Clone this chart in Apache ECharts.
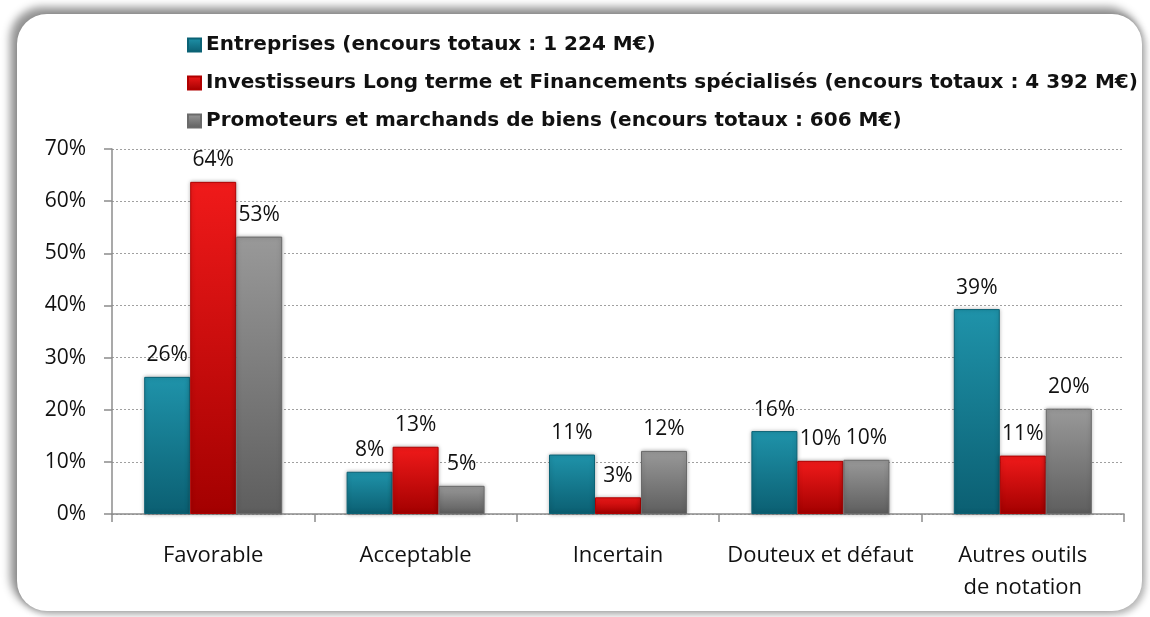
<!DOCTYPE html>
<html>
<head>
<meta charset="utf-8">
<script src="https://cdn.jsdelivr.net/npm/echarts@6/dist/echarts.min.js"></script>
<style>
  html, body { margin: 0; padding: 0; background: #fff; overflow: hidden; }
  #frame {
    position: absolute; left: 17px; top: 14px; width: 1125px; height: 597px;
    border-radius: 30px; background: #fff;
    box-shadow: -5px -5px 9px 2px rgba(0,0,0,0.42), 3px 3px 6px 1px rgba(0,0,0,0.25);
  }
  #myChart { position: absolute; left: 0; top: 0; width: 1150px; height: 617px; }
</style>
</head>
<body>
<div id="frame"></div>
<div id="myChart"></div>
<script>
// categories and values (in %)
var categories = ["Favorable", "Acceptable", "Incertain", "Douteux et défaut", "Autres outils\nde notation"];
var seriesNames = [
  "Entreprises (encours totaux : 1 224 M€)",
  "Investisseurs Long terme et Financements spécialisés (encours totaux : 4 392 M€)",
  "Promoteurs et marchands de biens (encours totaux : 606 M€)"
];
var entreprises = [26.3, 8.1, 11.4, 15.9, 39.3];
var investisseurs = [63.7, 12.9, 3.2, 10.2, 11.2];
var promoteurs = [53.2, 5.4, 12.1, 10.4, 20.2];
var yTicks = [0, 10, 20, 30, 40, 50, 60, 70];

var font = "'Open Sans', 'DejaVu Sans', sans-serif";
var legendFont = "'DejaVu Sans', sans-serif";

function grad(top, bottom) {
  return {
    type: "linear", x: 0, y: 0, x2: 0, y2: 1,
    colorStops: [{ offset: 0, color: top }, { offset: 1, color: bottom }]
  };
}

var myChart = echarts.init(document.getElementById("myChart"));

function barSeries(name, data, top, bottom, edge) {
  return {
    name: name,
    type: "bar",
    data: data,
    barWidth: 46,
    barGap: "0%",
    itemStyle: {
      color: grad(top, bottom),
      borderColor: edge,
      borderWidth: 1,
      shadowBlur: 4,
      shadowColor: "rgba(0,0,0,0.3)"
    },
    label: {
      show: true,
      position: "top",
      distance: 11,
      fontFamily: font,
      fontSize: 21,
      color: "#111",
      formatter: function (p) { return Math.round(p.value) + "%"; }
    }
  };
}

myChart.setOption({
  animation: false,
  color: ["#137d93", "#d40000", "#808080"],
  legend: {
    orient: "vertical",
    left: 182,
    top: 29,
    itemGap: 16,
    itemWidth: 13,
    itemHeight: 13,
    icon: "rect",
    data: seriesNames,
    textStyle: { fontFamily: legendFont, fontSize: 20, lineHeight: 22, fontWeight: "bold", color: "#111" }
  },
  grid: { left: 112, right: 26, top: 149, bottom: 103 },
  xAxis: {
    type: "category",
    data: categories,
    axisLine: { lineStyle: { color: "#8c8c8c", width: 1.5 } },
    axisTick: { show: true, length: 8, lineStyle: { color: "#8c8c8c", width: 1.5 } },
    axisLabel: { interval: 0, fontFamily: font, fontSize: 22, color: "#111", margin: 26, lineHeight: 32 }
  },
  yAxis: {
    type: "value",
    min: yTicks[0],
    max: yTicks[yTicks.length - 1],
    interval: 10,
    axisLine: { show: true, lineStyle: { color: "#8c8c8c", width: 1.5 } },
    axisTick: { show: true, length: 8, lineStyle: { color: "#8c8c8c", width: 1.5 } },
    splitLine: { lineStyle: { color: "#a0a0a0", type: [2, 2] } },
    axisLabel: {
      fontFamily: font, fontSize: 21, color: "#111", margin: 26,
      formatter: function (v) { return v + "%"; }
    }
  },
  series: [
    barSeries(seriesNames[0], entreprises, "#1f93aa", "#0b5f72", "#0b6275"),
    barSeries(seriesNames[1], investisseurs, "#f01a1a", "#a30000", "#b00000"),
    barSeries(seriesNames[2], promoteurs, "#999999", "#5e5e5e", "#6a6a6a")
  ]
});
</script>
</body>
</html>
